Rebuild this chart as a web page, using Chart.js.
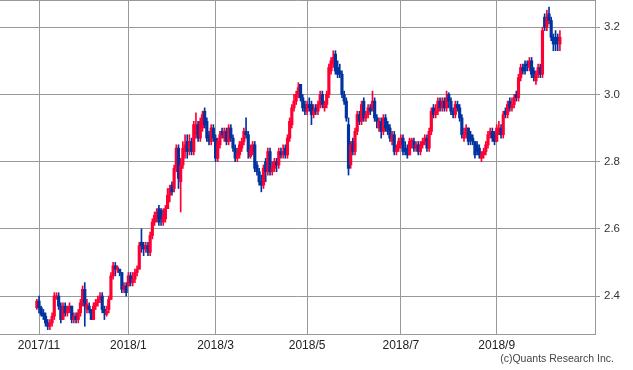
<!DOCTYPE html>
<html><head><meta charset="utf-8">
<script src="https://cdn.jsdelivr.net/npm/chart.js@4/dist/chart.umd.min.js"></script>
<style>html,body{margin:0;padding:0;background:#fff;overflow:hidden}#wrap{width:633px;height:370px;position:relative}</style>
</head><body><div id="wrap"><canvas id="c" width="633" height="370"></canvas></div>
<script>
// Daily OHLC, 2017/10/31 .. 2018/10/16 (trading-day index 0..240)
const openVals=[2.365,2.385,2.365,2.35,2.34,2.32,2.31,2.32,2.34,2.395,2.40,2.37,2.33,2.37,2.35,2.36,2.37,2.33,2.34,2.33,
2.35,2.38,2.42,2.36,2.37,2.36,2.33,2.37,2.38,2.39,2.40,2.36,2.345,2.36,2.39,2.46,2.49,2.48,2.48,2.47,
2.42,2.43,2.43,2.46,2.44,2.45,2.47,2.48,2.56,2.55,2.54,2.55,2.53,2.58,2.62,2.63,2.66,2.655,2.62,2.63,
2.66,2.70,2.73,2.72,2.78,2.84,2.74,2.79,2.83,2.86,2.84,2.86,2.83,2.88,2.91,2.87,2.90,2.95,2.92,2.88,
2.86,2.90,2.87,2.81,2.85,2.89,2.87,2.89,2.86,2.90,2.87,2.84,2.81,2.82,2.84,2.86,2.89,2.88,2.815,2.83,
2.85,2.79,2.77,2.74,2.73,2.80,2.77,2.83,2.77,2.78,2.80,2.79,2.83,2.82,2.84,2.82,2.87,2.91,2.96,2.98,
3.00,3.03,2.99,2.97,2.95,2.97,2.97,2.94,2.96,2.95,2.97,3.00,2.96,2.97,3.00,3.07,3.09,3.12,3.08,3.07,
3.06,3.00,2.98,2.91,2.79,2.86,2.83,2.89,2.94,2.92,2.98,2.93,2.94,2.96,2.96,2.98,2.93,2.90,2.92,2.89,
2.93,2.91,2.90,2.86,2.88,2.83,2.84,2.85,2.87,2.84,2.84,2.82,2.86,2.86,2.84,2.85,2.83,2.85,2.86,2.87,
2.84,2.89,2.96,2.94,2.95,2.98,2.96,2.98,2.96,3.00,2.98,2.95,2.94,2.97,2.96,2.93,2.87,2.88,2.90,2.88,
2.87,2.86,2.85,2.84,2.81,2.82,2.83,2.85,2.88,2.89,2.88,2.86,2.88,2.90,2.88,2.95,2.94,2.98,2.96,2.97,
3.00,2.99,3.05,3.08,3.09,3.09,3.08,3.10,3.07,3.04,3.06,3.08,3.06,3.23,3.20,3.24,3.22,3.17,3.17,3.17,
3.15];
const highVals=[2.39,2.40,2.37,2.36,2.35,2.33,2.33,2.35,2.41,2.41,2.41,2.38,2.38,2.38,2.37,2.38,2.37,2.35,2.35,2.36,
2.39,2.43,2.44,2.39,2.38,2.36,2.38,2.39,2.40,2.41,2.41,2.37,2.37,2.40,2.47,2.50,2.50,2.49,2.48,2.47,
2.44,2.44,2.47,2.47,2.47,2.48,2.49,2.56,2.60,2.56,2.56,2.56,2.59,2.63,2.65,2.66,2.67,2.66,2.66,2.67,
2.72,2.73,2.74,2.79,2.85,2.85,2.81,2.86,2.88,2.88,2.88,2.87,2.92,2.945,2.92,2.93,2.95,2.96,2.93,2.89,
2.91,2.91,2.88,2.87,2.89,2.90,2.90,2.90,2.91,2.91,2.88,2.85,2.84,2.86,2.87,2.90,2.93,2.89,2.85,2.86,
2.86,2.80,2.78,2.76,2.79,2.81,2.84,2.84,2.80,2.81,2.81,2.84,2.84,2.85,2.85,2.88,2.93,2.97,3.00,3.01,
3.035,3.03,3.00,2.98,2.98,2.99,2.98,2.97,2.97,2.98,3.01,3.01,2.98,3.01,3.09,3.11,3.13,3.13,3.10,3.09,
3.07,3.01,2.99,2.93,2.86,2.87,2.90,2.95,2.95,2.98,2.99,2.95,2.97,2.97,3.01,2.99,2.94,2.93,2.93,2.94,
2.94,2.92,2.91,2.89,2.89,2.85,2.87,2.88,2.88,2.86,2.85,2.87,2.87,2.87,2.86,2.86,2.86,2.87,2.88,2.88,
2.90,2.96,2.97,2.97,2.99,2.99,2.99,2.99,3.01,3.005,2.99,2.96,2.98,2.98,2.97,2.94,2.90,2.91,2.90,2.89,
2.88,2.86,2.86,2.85,2.83,2.84,2.86,2.89,2.90,2.90,2.89,2.91,2.92,2.91,2.95,2.96,2.98,2.99,2.99,3.00,
3.01,3.06,3.09,3.09,3.10,3.10,3.11,3.11,3.08,3.07,3.09,3.09,3.20,3.24,3.25,3.26,3.23,3.18,3.19,3.18,
3.19];
const lowVals=[2.36,2.35,2.34,2.33,2.31,2.30,2.30,2.31,2.33,2.39,2.36,2.32,2.33,2.34,2.34,2.35,2.32,2.32,2.32,2.32,
2.34,2.37,2.31,2.35,2.35,2.33,2.33,2.36,2.37,2.38,2.35,2.33,2.34,2.35,2.39,2.45,2.46,2.47,2.46,2.41,
2.41,2.40,2.43,2.43,2.43,2.44,2.46,2.48,2.53,2.52,2.53,2.52,2.52,2.57,2.61,2.62,2.61,2.61,2.61,2.62,
2.66,2.68,2.70,2.71,2.77,2.72,2.65,2.78,2.81,2.81,2.82,2.82,2.82,2.87,2.86,2.86,2.89,2.90,2.86,2.85,
2.85,2.86,2.80,2.80,2.84,2.87,2.86,2.85,2.85,2.86,2.83,2.80,2.80,2.81,2.83,2.85,2.87,2.81,2.81,2.82,
2.77,2.76,2.73,2.71,2.72,2.74,2.76,2.76,2.76,2.77,2.77,2.78,2.81,2.81,2.81,2.81,2.86,2.90,2.95,2.97,
2.99,2.98,2.95,2.94,2.94,2.95,2.91,2.93,2.94,2.94,2.96,2.96,2.95,2.96,2.99,3.06,3.08,3.06,3.05,3.05,
2.99,2.97,2.92,2.76,2.78,2.82,2.82,2.88,2.91,2.91,2.92,2.92,2.93,2.94,2.95,2.92,2.90,2.89,2.87,2.88,
2.89,2.88,2.86,2.85,2.82,2.82,2.83,2.84,2.82,2.82,2.81,2.82,2.84,2.83,2.83,2.82,2.82,2.84,2.85,2.83,
2.83,2.88,2.93,2.93,2.94,2.95,2.95,2.95,2.95,2.96,2.94,2.93,2.93,2.95,2.92,2.87,2.86,2.87,2.85,2.85,
2.85,2.81,2.82,2.81,2.80,2.81,2.82,2.84,2.87,2.86,2.85,2.86,2.88,2.87,2.87,2.93,2.93,2.95,2.95,2.96,
2.98,2.98,3.04,3.06,3.06,3.07,3.07,3.05,3.04,3.03,3.05,3.05,3.05,3.19,3.19,3.21,3.16,3.13,3.13,3.13,
3.13];
const closeVals=[2.385,2.365,2.345,2.34,2.32,2.31,2.32,2.34,2.40,2.40,2.37,2.33,2.37,2.35,2.36,2.37,2.33,2.34,2.33,2.35,
2.38,2.42,2.37,2.375,2.36,2.33,2.37,2.38,2.39,2.40,2.36,2.35,2.355,2.39,2.46,2.49,2.48,2.485,2.47,2.42,
2.43,2.41,2.46,2.44,2.45,2.47,2.48,2.55,2.55,2.54,2.55,2.53,2.58,2.62,2.64,2.65,2.62,2.63,2.64,2.66,
2.70,2.72,2.71,2.78,2.84,2.75,2.79,2.84,2.85,2.83,2.86,2.83,2.91,2.91,2.87,2.92,2.94,2.91,2.87,2.86,
2.90,2.87,2.81,2.86,2.88,2.88,2.89,2.86,2.90,2.87,2.84,2.81,2.82,2.85,2.86,2.89,2.88,2.83,2.835,2.85,
2.78,2.77,2.74,2.73,2.78,2.77,2.83,2.77,2.78,2.80,2.79,2.83,2.82,2.83,2.82,2.87,2.92,2.96,2.98,3.00,
3.02,2.99,2.96,2.95,2.97,2.96,2.94,2.95,2.95,2.97,3.00,2.97,2.97,3.00,3.08,3.10,3.11,3.07,3.06,3.06,
3.00,2.98,2.93,2.78,2.85,2.83,2.89,2.94,2.92,2.97,2.93,2.94,2.96,2.95,2.98,2.93,2.92,2.92,2.89,2.93,
2.90,2.89,2.87,2.88,2.83,2.84,2.86,2.87,2.83,2.83,2.82,2.86,2.865,2.84,2.85,2.83,2.85,2.86,2.87,2.84,
2.89,2.95,2.94,2.95,2.98,2.96,2.98,2.96,2.99,2.98,2.95,2.94,2.97,2.96,2.93,2.88,2.88,2.90,2.86,2.865,
2.86,2.82,2.83,2.82,2.82,2.83,2.85,2.88,2.89,2.87,2.86,2.90,2.90,2.88,2.94,2.94,2.97,2.96,2.97,2.99,
2.99,3.05,3.08,3.07,3.07,3.085,3.10,3.06,3.05,3.06,3.08,3.06,3.19,3.20,3.23,3.22,3.17,3.15,3.15,3.16,
3.17];
const monthTickIdx=[1,42,82,124,167,211];
const monthTickLabels=['2017/11','2018/1','2018/3','2018/5','2018/7','2018/9'];
const yTickVals=[2.4,2.6,2.8,3.0,3.2];
const copyrightText='(c)Quants Research Inc.';

const UP='#ff0033', DOWN='#0033a0', GRID='#999999';
const colorFor = ctx => closeVals[ctx.dataIndex] >= openVals[ctx.dataIndex] ? UP : DOWN;

const bodies = openVals.map((o,i)=>({x:i, y:[o, closeVals[i]]}));
const wicks = lowVals.map((l,i)=>({x:i, y:[l, highVals[i]]}));

const frame = {
  id:'frame',
  afterDraw(chart){
    const {ctx, chartArea:a} = chart;
    ctx.save();
    ctx.strokeStyle = GRID; ctx.lineWidth = 1;
    ctx.beginPath(); ctx.moveTo(a.left, a.top+0.5); ctx.lineTo(a.right, a.top+0.5); ctx.stroke();
    ctx.fillStyle = '#444';
    ctx.font = '10.5px "Liberation Sans", Arial, sans-serif';
    ctx.textAlign = 'right'; ctx.textBaseline = 'alphabetic';
    ctx.fillText(copyrightText, 614, 362);
    ctx.restore();
  }
};

new Chart(document.getElementById('c'), {
  type:'bar',
  data:{ datasets:[
    {data:bodies, barThickness:2.5, backgroundColor:colorFor, borderWidth:0, grouped:false},
    {data:wicks, barThickness:1, backgroundColor:colorFor, borderWidth:0, grouped:false}
  ]},
  options:{
    responsive:false, animation:false, devicePixelRatio:1,
    layout:{padding:0},
    plugins:{legend:{display:false}, tooltip:{enabled:false}},
    scales:{
      x:{type:'linear', min:-16.9, max:256.1, offset:false,
         afterBuildTicks:s=>{s.ticks = monthTickIdx.map(v=>({value:v}));},
         afterFit:s=>{s.height = 36; s.paddingLeft = 0; s.paddingRight = 0;},
         grid:{color:GRID, drawTicks:false, offset:false, lineWidth:1},
         border:{display:true, color:GRID},
         ticks:{autoSkip:false, maxRotation:0, padding:4, color:'#222',
                font:{family:'"Liberation Sans", Arial, sans-serif', size:12},
                callback:v=>{const k=monthTickIdx.indexOf(v); return k>=0?monthTickLabels[k]:'';}}},
      y:{position:'right', min:2.287, max:3.281,
         afterBuildTicks:s=>{s.ticks = yTickVals.map(v=>({value:v}));},
         afterFit:s=>{s.width = 38; s.paddingTop = 0; s.paddingBottom = 0;},
         grid:{color:GRID, drawTicks:true, tickLength:5},
         border:{display:true, color:GRID},
         ticks:{padding:4, color:'#333',
                font:{family:'"Liberation Sans", Arial, sans-serif', size:11.5},
                callback:v=>Number(v).toFixed(1)}}
    }
  },
  plugins:[frame]
});
</script></body></html>
